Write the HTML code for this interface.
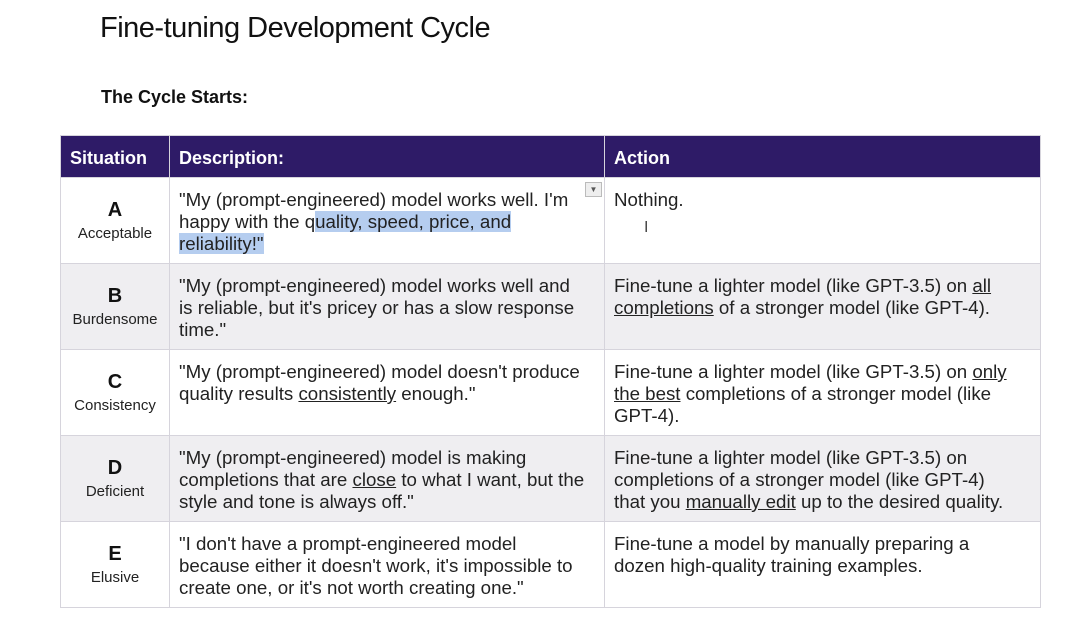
<!DOCTYPE html>
<html><head><style>
body{margin:0;width:1072px;height:635px;background:#fff;font-family:"Liberation Sans",Arial,sans-serif;position:relative;overflow:hidden}
.title{position:absolute;left:100px;top:12px;font-size:29px;letter-spacing:-0.5px;color:#111}
.sub{position:absolute;left:101px;top:87px;font-size:18px;font-weight:bold;color:#111}
table{position:absolute;left:60px;top:135px;border-collapse:collapse;width:981px;table-layout:fixed}
td,th{border:1px solid #d6d4dc;vertical-align:top;font-size:18.7px;line-height:22px;color:#222;padding:11px 9px 0 9px;box-sizing:border-box}
td.d{padding-right:17px}
td.a{padding-right:21px}
th{background:#2e1b67;color:#fff;text-align:left;height:42px;padding-top:11px;font-size:18px}
tr.r td{height:86px}
tr.g td{background:#efeef1}
td.s{text-align:center;padding:0;vertical-align:middle}
td.s b{display:block;font-size:20px;line-height:22px;color:#111}
td.s span{font-size:15px;line-height:18px}
.h{background:#b5cdef}
</style></head><body>
<div class="title">Fine-tuning Development Cycle</div>
<div class="sub">The Cycle Starts:</div>
<table>
<colgroup><col style="width:109px"><col style="width:435px"><col></colgroup>
<tr><th>Situation</th><th>Description:</th><th>Action</th></tr>
<tr class="r"><td class="s"><b>A</b><span>Acceptable</span></td><td class="d" style="position:relative">"My (prompt-engineered) model works well. I'm happy with the q<span class="h">uality, speed, price, and </span><span class="h">reliability!" </span><div style="position:absolute;right:2px;top:4px;width:15px;height:13px;border:1px solid #bbb;background:#eee;font-size:8px;line-height:13px;text-align:center;color:#555">▼</div></td><td class="a">Nothing.<div style="margin:6px 0 0 30px;font-size:16px;color:#444">I</div></td></tr>
<tr class="r g"><td class="s"><b>B</b><span>Burdensome</span></td><td class="d">"My (prompt-engineered) model works well and is reliable, but it's pricey or has a slow response time."</td><td class="a">Fine-tune a lighter model (like GPT-3.5) on <u>all completions</u> of a stronger model (like GPT-4).</td></tr>
<tr class="r"><td class="s"><b>C</b><span>Consistency</span></td><td class="d">"My (prompt-engineered) model doesn't produce quality results <u>consistently</u> enough."</td><td class="a">Fine-tune a lighter model (like GPT-3.5) on <u>only the best</u> completions of a stronger model (like GPT-4).</td></tr>
<tr class="r g"><td class="s"><b>D</b><span>Deficient</span></td><td class="d">"My (prompt-engineered) model is making completions that are <u>close</u> to what I want, but the style and tone is always off."</td><td class="a">Fine-tune a lighter model (like GPT-3.5) on completions of a stronger model (like GPT-4) that you <u>manually edit</u> up to the desired quality.</td></tr>
<tr class="r"><td class="s"><b>E</b><span>Elusive</span></td><td class="d">"I don't have a prompt-engineered model because either it doesn't work, it's impossible to create one, or it's not worth creating one."</td><td class="a">Fine-tune a model by manually preparing a dozen high-quality training examples.</td></tr>
</table>
</body></html>
